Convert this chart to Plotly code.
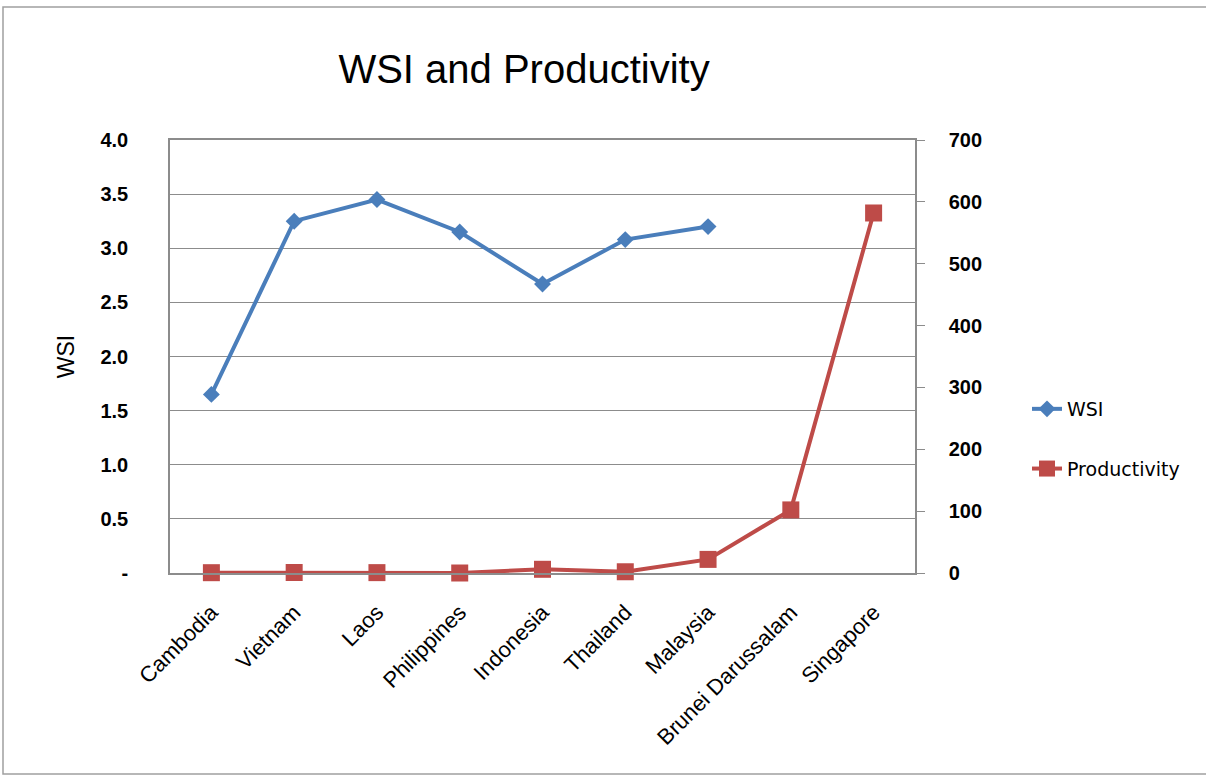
import plotly.graph_objects as go

countries = ["Cambodia", "Vietnam", "Laos", "Philippines", "Indonesia",
             "Thailand", "Malaysia", "Brunei Darussalam", "Singapore"]
wsi = [1.65, 3.25, 3.45, 3.15, 2.67, 3.08, 3.20, None, None]
productivity = [0.5, 0.8, 0.6, 0, 6, 2, 22, 102, 582]

left_ticks = [0, 0.5, 1.0, 1.5, 2.0, 2.5, 3.0, 3.5, 4.0]
left_labels = ["-", "0.5", "1.0", "1.5", "2.0", "2.5", "3.0", "3.5", "4.0"]
right_ticks = [0, 100, 200, 300, 400, 500, 600, 700]

blue = "#4A7EBB"
red = "#BE4B48"
grid = "#8C8C8C"
font = "Liberation Sans, Arial, sans-serif"

W, H = 1206, 776
PL, PR, PT, PB = 170, 915, 140, 573
pw, ph = PR - PL, PB - PT


def px(x):
    return (x - PL) / pw


def py(y):
    return (PB - y) / ph


fig = go.Figure()
fig.add_trace(go.Scatter(
    x=countries, y=wsi, name="WSI", mode="lines+markers",
    line=dict(color=blue, width=4),
    marker=dict(symbol="diamond", size=13, color=blue),
    cliponaxis=False, legendgroup="a", connectgaps=False))
fig.add_trace(go.Scatter(
    x=countries, y=productivity, name="Productivity", mode="lines+markers",
    line=dict(color=red, width=4),
    marker=dict(symbol="square", size=17, color=red),
    cliponaxis=False, yaxis="y2", legendgroup="b"))

fig.update_layout(
    width=W, height=H,
    paper_bgcolor="white", plot_bgcolor="white",
    margin=dict(l=PL, r=W - PR, t=PT, b=H - PB),
    font=dict(family=font, color="black"),
    title=dict(text="WSI and Productivity", x=524 / W, xanchor="center",
               y=1 - 69 / H, yanchor="middle",
               font=dict(size=40, family=font, color="black")),
    xaxis=dict(type="category", tickangle=-45, showgrid=False,
               showline=True, linecolor=grid, linewidth=1.5, mirror=True,
               ticks="", tickfont=dict(size=22, family=font),
               ticklabelstandoff=16, range=[-0.5, 8.5]),
    yaxis=dict(range=[0, 4], tickvals=left_ticks, ticktext=left_labels,
               showgrid=True, gridcolor=grid, gridwidth=1.3,
               showline=True, linecolor=grid, linewidth=1.5,
               ticks="", tickfont=dict(size=20, family=font, weight="bold"),
               ticklabelstandoff=36, zeroline=False,
               title=dict(text="WSI", font=dict(size=23, family=font), standoff=19)),
    yaxis2=dict(range=[0, 700], tickvals=right_ticks, overlaying="y", side="right",
                showgrid=False, showline=True, linecolor=grid, linewidth=1.5,
                ticks="outside", ticklen=8, tickcolor=grid,
                tickfont=dict(size=20, family=font, weight="bold"), zeroline=False,
                ticklabelstandoff=20),
    legend=dict(x=px(1027), xref="paper", xanchor="left",
                y=py(390), yref="paper", yanchor="top",
                font=dict(size=19, family="DejaVu Sans, sans-serif"),
                tracegroupgap=32, traceorder="grouped",
                bgcolor="rgba(0,0,0,0)", borderwidth=0),
    showlegend=True,
    shapes=[dict(type="rect", xref="paper", yref="paper",
                 x0=px(3), x1=px(1212), y0=py(774), y1=py(7),
                 line=dict(color="#A0A0A0", width=1.5))],
)

fig.write_html("out.html", config={"displayModeBar": False},
               post_script="document.body.style.margin='0';")
